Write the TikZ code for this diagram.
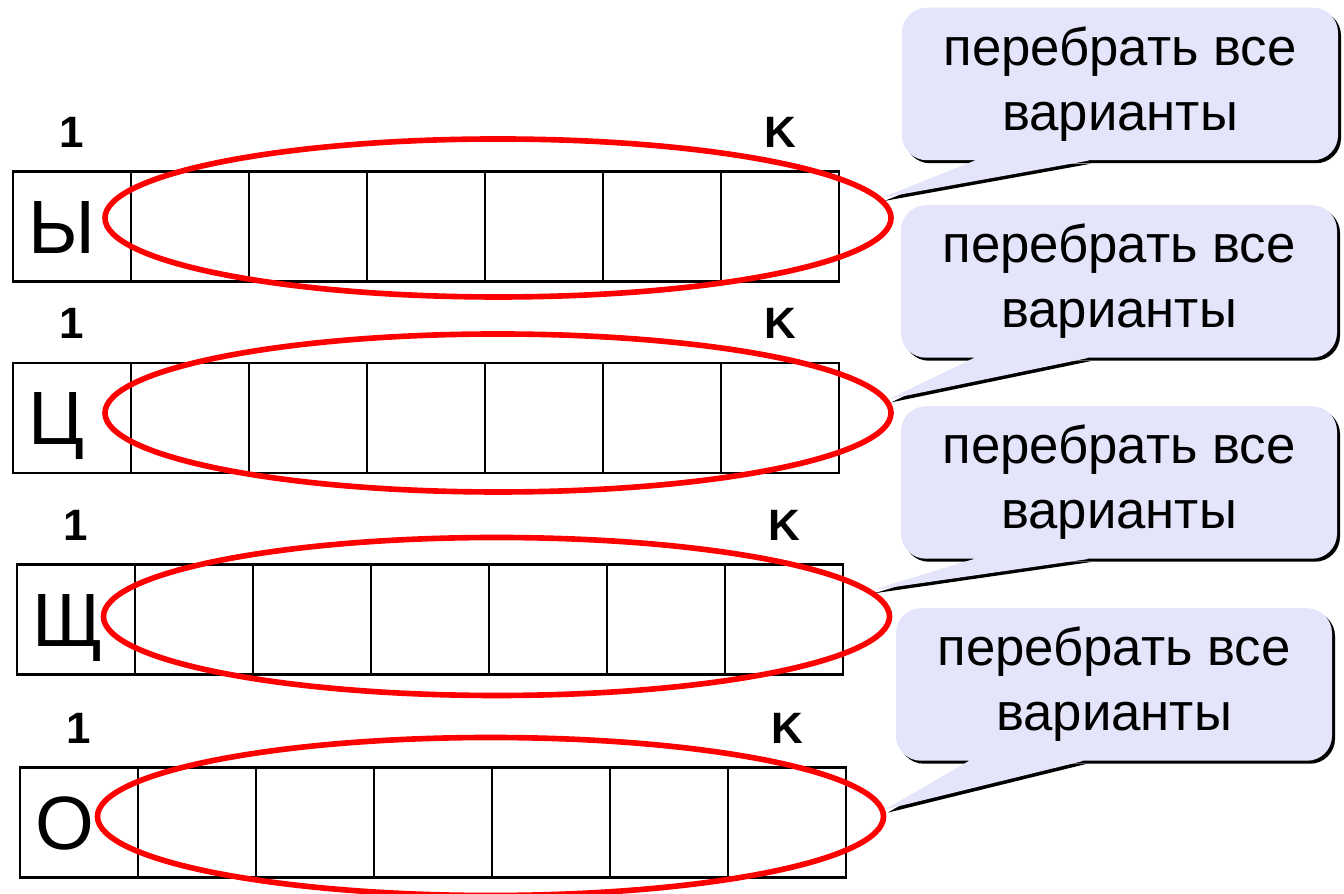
\documentclass[tikz,border=0pt]{standalone}
\usepackage{fontspec}
\setmainfont{Liberation Sans}
\usepackage{xcolor}
\usepackage{tikz}
\usetikzlibrary{positioning,shapes.geometric,shadows}
\definecolor{ringred}{HTML}{FF0000}
\definecolor{notebg}{HTML}{E4E4FA}
\tikzset{
  cell/.style={draw=black,line width=1.2pt,minimum width=2.36cm,minimum height=2.2cm,inner sep=0pt,outer sep=0pt},
  glyph/.style={font=\fontsize{43}{50}\selectfont,text height=1.08cm,text depth=0pt,inner sep=0pt},
  idx/.style={font=\bfseries\fontsize{25}{30}\selectfont,text height=0.64cm,text depth=0pt,inner sep=0pt},
  ring/.style={ellipse,draw=ringred,line width=3.2pt,minimum width=15.72cm,minimum height=3.16cm,inner sep=0pt},
  note/.style={fill=notebg,rounded corners=0.5cm,minimum width=8.72cm,minimum height=3.05cm,align=center,
    font=\fontsize{30}{37}\selectfont,inner sep=0pt,
    drop shadow={shadow xshift=0.06cm,shadow yshift=-0.06cm,fill=black,opacity=1}},
  tail/.style={fill=notebg},
  tailshade/.style={fill=black}
}

\begin{document}
\begin{tikzpicture}
\useasboundingbox (0,0) rectangle (26.88,17.88);
\foreach \row/\bx/\by/\ch/\ex/\ey/\nx/\ny/\ang in {
  1/0.26/13.35/Ы/9.96/13.52/22.40/16.20/3,
  2/0.26/9.52/Ц/9.96/9.62/22.38/12.25/2,
  3/0.34/5.49/Щ/9.93/5.55/22.38/8.23/4,
  4/0.40/1.43/О/9.81/1.55/22.28/4.19/1}
{
  % seven cells in a row
  \node[cell,anchor=west] (c\row-1) at (\bx,\by) {};
  \foreach \i [remember=\i as \p (initially 1)] in {2,...,7}
    \node[cell,right=0pt of c\row-\p] (c\row-\i) {};
  \node[glyph,right=0.3cm of c\row-1.west] (ch\row) {\ch};
  \node[idx,above=0.48cm of c\row-1] (lo\row) {1};
  \node[idx,above=0.48cm of c\row-7] (hi\row) {K};
  % oval round the free cells
  \node[ring] (ring\row) at (\ex,\ey) {};
  % callout and its tail
  \node[note] (note\row) at (\nx,\ny) {перебрать все\\варианты};
  \path (note\row.south west) ++(1.46,0) coordinate (b\row) ++(2.28,0) coordinate (e\row);
  \fill[tailshade] ([shift={(0.06,-0.06)}]b\row) -- ([shift={(0.06,-0.06)}]ring\row.\ang)
    -- ([shift={(0.06,-0.06)}]e\row) -- cycle;
  \fill[tail] ([yshift=0.1cm]b\row) -- (b\row) -- (ring\row.\ang) -- (e\row) -- ([yshift=0.1cm]e\row) -- cycle;
}
\end{tikzpicture}
\end{document}
